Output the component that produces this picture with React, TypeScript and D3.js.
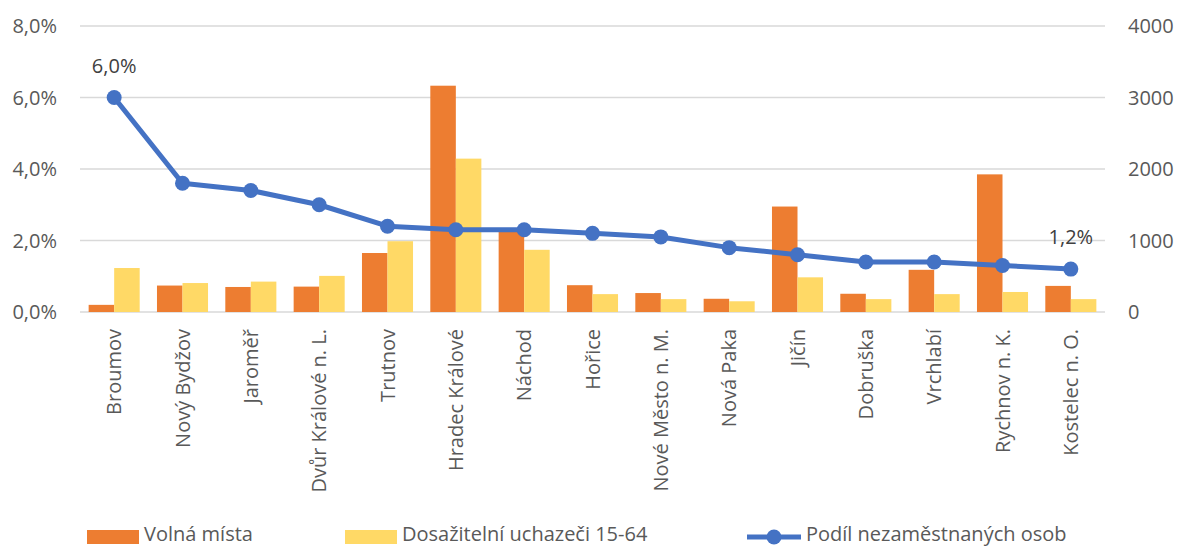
import React from "react";
import * as d3 from "d3";

const categories = [
  "Broumov", "Nový Bydžov", "Jaroměř", "Dvůr Králové n. L.", "Trutnov",
  "Hradec Králové", "Náchod", "Hořice", "Nové Město n. M.", "Nová Paka",
  "Jičín", "Dobruška", "Vrchlabí", "Rychnov n. K.", "Kostelec n. O.",
];
const volnaMista = [100, 370, 350, 355, 825, 3165, 1150, 375, 265, 185, 1475, 255, 590, 1925, 365];
const uchazeci = [615, 405, 425, 505, 990, 2145, 870, 250, 180, 150, 485, 180, 250, 280, 180];
const podil = [6.0, 3.6, 3.4, 3.0, 2.4, 2.3, 2.3, 2.2, 2.1, 1.8, 1.6, 1.4, 1.4, 1.3, 1.2];
const leftTicks = [0, 2, 4, 6, 8];
const rightTicks = [0, 1000, 2000, 3000, 4000];
const labeledIdx = [0, 14];

const W = 1179, H = 546;
const left = 80, right = 1105, top = 26, bottom = 312;
const FONT = "'Open Sans', sans-serif";

export default function App() {
  const x = d3.scaleBand<string>().domain(categories).range([left, right]).paddingInner(0.253).paddingOuter(0.1265);
  const xc = d3.scaleBand<string>().domain(categories).range([left, right]);
  const yL = d3.scaleLinear().domain([0, 8]).range([bottom, top]);
  const yR = d3.scaleLinear().domain([0, 4000]).range([bottom, top]);
  const bw = x.bandwidth() / 2;
  const cx = (c: string) => (xc(c) as number) + xc.bandwidth() / 2;
  const line = d3.line<number>().x((_, i) => cx(categories[i])).y((d) => yL(d));
  const fmt = (v: number) => v.toFixed(1).replace(".", ",") + "%";

  return (
    <svg width={W} height={H} style={{ position: "absolute", left: 0, top: 0, background: "#fff" }} fontFamily={FONT}>
      {leftTicks.map((t) => (
        <line key={t} x1={left} x2={right} y1={yL(t)} y2={yL(t)} stroke="#D9D9D9" strokeWidth={1.5} />
      ))}
      {leftTicks.map((t) => (
        <text key={"l" + t} x={57} y={yL(t)} dy="0.35em" textAnchor="end" fontSize={20} fill="#595959">{fmt(t)}</text>
      ))}
      {rightTicks.map((t) => (
        <text key={"r" + t} x={1128} y={yR(t)} dy="0.35em" textAnchor="start" fontSize={20} fill="#595959">{t}</text>
      ))}
      {categories.map((c, i) => {
        const x0 = x(c) as number;
        return (
          <g key={c}>
            <rect x={x0} y={yR(volnaMista[i])} width={bw} height={bottom - yR(volnaMista[i])} fill="#ED7D31" />
            <rect x={x0 + bw} y={yR(uchazeci[i])} width={bw} height={bottom - yR(uchazeci[i])} fill="#FFD966" />
          </g>
        );
      })}
      <path d={line(podil) as string} fill="none" stroke="#4472C4" strokeWidth={5} strokeLinejoin="round" />
      {podil.map((v, i) => (
        <circle key={i} cx={cx(categories[i])} cy={yL(v)} r={7.5} fill="#4472C4" />
      ))}
      {labeledIdx.map((i) => (
        <text key={"d" + i} x={cx(categories[i])} y={yL(podil[i]) - 25} textAnchor="middle" fontSize={20} fill="#404040">{fmt(podil[i])}</text>
      ))}
      {categories.map((c) => (
        <text key={"x" + c} transform={`translate(${cx(c)},329) rotate(-90)`} dy="0.35em" textAnchor="end" fontSize={20} fill="#595959">{c}</text>
      ))}
      <g fontSize={20} fill="#595959">
        <rect x={87} y={530} width={52} height={14} fill="#ED7D31" />
        <text x={144} y={541}>Volná místa</text>
        <rect x={345} y={530} width={52} height={14} fill="#FFD966" />
        <text x={402} y={541}>Dosažitelní uchazeči 15-64</text>
        <line x1={747} x2={801} y1={537} y2={537} stroke="#4472C4" strokeWidth={5} />
        <circle cx={774} cy={537} r={7.5} fill="#4472C4" />
        <text x={806} y={541}>Podíl nezaměstnaných osob</text>
      </g>
    </svg>
  );
}
